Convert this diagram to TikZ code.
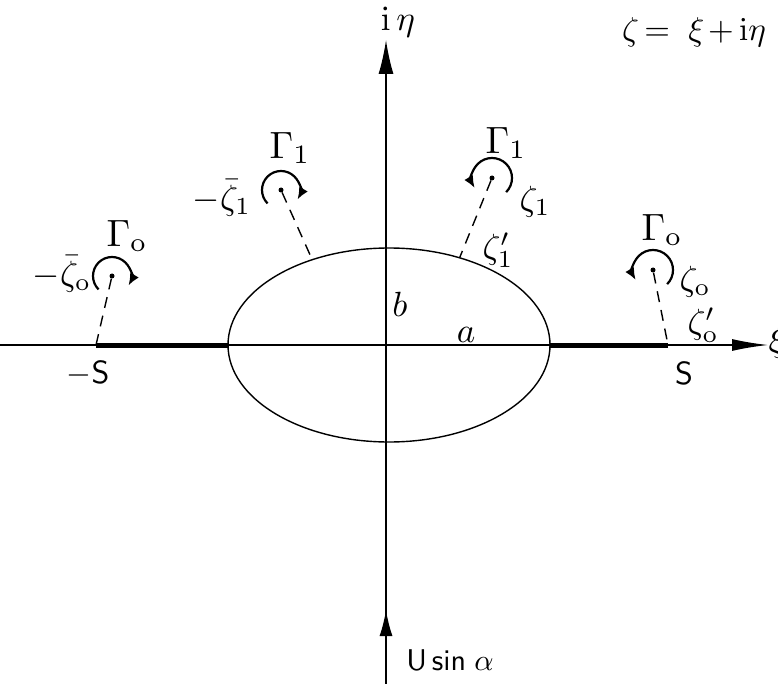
\documentclass[tikz,border=0pt]{standalone}
\usetikzlibrary{arrows.meta,shapes.geometric}
\begin{document}
\begin{tikzpicture}[x=1pt,y=-1pt,
  lbl/.style={scale=3.5, inner sep=0pt},
  glbl/.style={scale=3.8, inner sep=0pt},
  slbl/.style={scale=3.2, font=\sffamily, inner sep=0pt},
  axisline/.style={line width=1.5pt},
  cutseg/.style={line width=5pt},
  vortexarc/.style={line width=2.2pt, -{Latex[length=12pt,width=10pt]}},
  dashline/.style={line width=1.4pt, dash pattern=on 11pt off 8pt},
  dotmark/.style={circle, fill, inner sep=0pt, minimum size=5pt}]
\useasboundingbox (0,0) rectangle (778,684);
% axes
\coordinate (xl) at (0,345);
\coordinate (xr) at (768,345);
\coordinate (yb) at (386,684);
\coordinate (yt) at (386,40);
\coordinate (ym) at (386,610);
\draw[axisline,-{Latex[length=36pt,width=12pt]}] (xl) -- (xr);
\draw[axisline,-{Latex[length=34pt,width=15pt]}] (yb) -- (yt);
\draw[axisline,-{Latex[length=26pt,width=13pt]}] (yb) -- (ym);
% ellipse
\node[ellipse, draw, line width=1.4pt, minimum width=322pt, minimum height=194pt, inner sep=0pt, outer sep=0pt] (ell) at (389,345) {};
% cuts
\coordinate (mS) at (96,345);
\coordinate (pS) at (668,345);
\draw[cutseg] (mS) -- (ell.west);
\draw[cutseg] (ell.east) -- (pS);
% vortices
\node[dotmark] (v0l) at (112,276) {};
\node[dotmark] (v1l) at (281,190) {};
\node[dotmark] (v1r) at (492,178) {};
\node[dotmark] (v0r) at (653,270) {};
\draw[vortexarc] (v0l) ++(-225:19) arc[start angle=-225, end angle=30, radius=19];
\draw[vortexarc] (v1l) ++(-225:19) arc[start angle=-225, end angle=30, radius=19];
\draw[vortexarc] (v1r) ++(45:20) arc[start angle=45, end angle=-210, radius=20];
\draw[vortexarc] (v0r) ++(45:20) arc[start angle=45, end angle=-210, radius=20];
\draw[dashline] (v0l) -- (mS);
\draw[dashline] (v1l) -- (ell.132);
\draw[dashline] (v1r) -- (ell.51);
\draw[dashline] (v0r) -- (pS);
% labels
\node[glbl] (lg0l) at (127,236) {$\Gamma_{\mathrm{o}}$};
\node[lbl] (lz0l) at (62,274) {$-\bar\zeta_{\mathrm{o}}$};
\node[glbl] (lg1l) at (290,148) {$\Gamma_{1}$};
\node[lbl] (lz1l) at (222,198) {$-\bar\zeta_1$};
\node[glbl] (lg1r) at (506,143) {$\Gamma_{1}$};
\node[lbl] (lz1r) at (535,202) {$\zeta_1$};
\node[lbl] (lz1p) at (498,250) {$\zeta_1'$};
\node[glbl] (lg0r) at (662,230) {$\Gamma_{\mathrm{o}}$};
\node[lbl] (lz0r) at (695,282) {$\zeta_{\mathrm{o}}$};
\node[lbl] (lz0p) at (703,325) {$\zeta_{\mathrm{o}}'$};
\node[slbl] (lmS) at (88,373) {$-$S};
\node[slbl] (lpS) at (684,373) {S};
\node[lbl] (la) at (466,335) {$a$};
\node[lbl] (lb) at (400,304) {$b$};
\node[lbl] (leta) at (398,22) {$\mathrm{i}\,\eta$};
\node[scale=3.3, inner sep=0pt] (leq) at (694,32) {$\zeta\mkern-2mu=\mkern5mu\xi\mkern-2mu+\mkern-1mu\mathrm{i}\eta$};
\node[lbl, anchor=west] (lxi) at (768,343) {$\xi$};
\node[scale=3.0, font=\sffamily, inner sep=0pt] (lu) at (450,660) {U\,sin\;$\alpha$};
\end{tikzpicture}
\end{document}
